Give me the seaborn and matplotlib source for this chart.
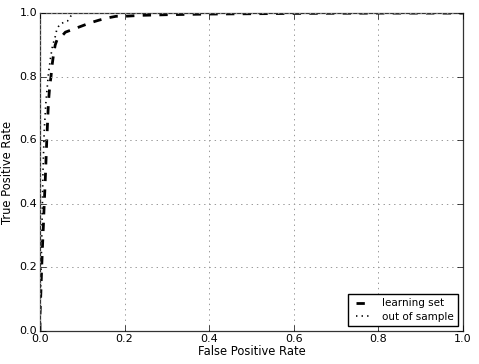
import numpy as np
import pandas as pd
import seaborn as sns
import matplotlib
matplotlib.use("Agg")
import matplotlib.pyplot as plt

# ROC curve points
learn_fpr = [0.0, 0.0, 0.002, 0.004, 0.006, 0.008, 0.010, 0.012, 0.014, 0.016, 0.018, 0.020,
             0.023, 0.026, 0.028, 0.032, 0.036, 0.040, 0.050, 0.060, 0.070, 0.080, 0.100,
             0.120, 0.140, 0.160, 0.180, 0.200, 0.240, 0.300, 0.400, 0.500, 0.600, 0.800, 1.0]
learn_tpr = [0.0, 0.05, 0.12, 0.20, 0.27, 0.33, 0.40, 0.46, 0.53, 0.60, 0.66, 0.72,
             0.77, 0.80, 0.83, 0.87, 0.90, 0.915, 0.925, 0.94, 0.945, 0.95, 0.96,
             0.97, 0.978, 0.985, 0.99, 0.990, 0.993, 0.995, 0.997, 0.998, 0.999, 1.0, 1.0]

oos_fpr = [0.0, 0.0, 0.002, 0.003, 0.005, 0.007, 0.010, 0.014, 0.018, 0.020, 0.025, 0.030,
           0.035, 0.040, 0.047, 0.055, 0.065, 0.075, 0.080, 0.20, 0.50, 1.0]
oos_tpr = [0.0, 0.08, 0.15, 0.22, 0.35, 0.50, 0.63, 0.72, 0.78, 0.81, 0.86, 0.90,
           0.92, 0.95, 0.965, 0.97, 0.975, 0.995, 1.0, 1.0, 1.0, 1.0]

plt.style.use("classic")
plt.rcParams["font.family"] = ["DejaVu Sans"]
plt.rcParams["font.size"] = 8
plt.rcParams["xtick.major.pad"] = 2
plt.rcParams["ytick.major.pad"] = 2

fig = plt.figure(figsize=(4.79, 3.64), dpi=100, facecolor="white")
ax = fig.add_axes([0.0835, 0.0907, 0.883, 0.8733])

df_learn = pd.DataFrame({"fpr": learn_fpr, "tpr": learn_tpr})
df_oos = pd.DataFrame({"fpr": oos_fpr, "tpr": oos_tpr})

sns.lineplot(data=df_learn, x="fpr", y="tpr", ax=ax, sort=False, estimator=None,
             color="black", linestyle="--", linewidth=2, label="learning set")
sns.lineplot(data=df_oos, x="fpr", y="tpr", ax=ax, sort=False, estimator=None,
             color="black", linestyle=":", linewidth=1.2, label="out of sample")

ax.set_xlim(0, 1)
ax.set_ylim(0, 1)
ax.set_xlabel("False Positive Rate", fontsize=8.3, labelpad=1)
ax.set_ylabel("True Positive Rate", fontsize=8.3, labelpad=4)
ax.tick_params(labelsize=8, length=4)
for s in ax.spines.values():
    s.set_color("#333333")
    s.set_linewidth(0.9)
ax.grid(True, color="#999999", linestyle=(0, (1, 2.8)), linewidth=0.7)
ax.legend(loc="lower right", fontsize=7.5, handlelength=2, frameon=True,
          borderaxespad=0.5, labelspacing=0.3)

fig.savefig("out.png", dpi=100, facecolor="white")
